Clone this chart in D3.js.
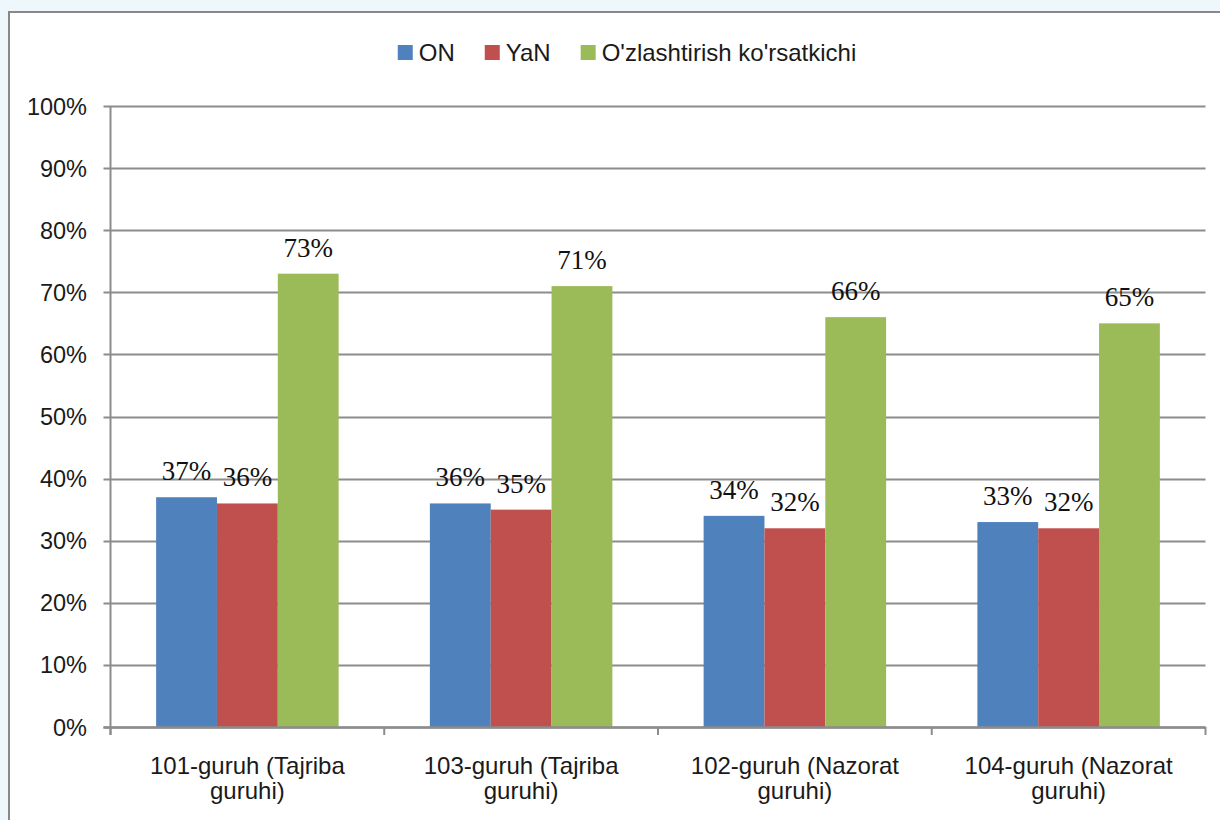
<!DOCTYPE html>
<html>
<head>
<meta charset="utf-8">
<script src="https://cdn.jsdelivr.net/npm/d3@7"></script>
<style>
  html, body { margin: 0; padding: 0; background: #eef7fc; overflow: hidden; }
  svg { display: block; }
</style>
</head>
<body>
<div id="container"></div>
<script>
// data
const groups = [
    ["101-guruh (Tajriba", "guruhi)"],
    ["103-guruh (Tajriba", "guruhi)"],
    ["102-guruh (Nazorat", "guruhi)"],
    ["104-guruh (Nazorat", "guruhi)"]
];
const seriesNames = ["ON", "YaN", "O'zlashtirish ko'rsatkichi"];
const seriesColors = ["#4f81bd", "#c0504d", "#9bbb59"];
const onValues = [0.37, 0.36, 0.34, 0.33];
const yanValues = [0.36, 0.35, 0.32, 0.32];
const masteryValues = [0.73, 0.71, 0.66, 0.65];
const yTicks = [0, 0.1, 0.2, 0.3, 0.4, 0.5, 0.6, 0.7, 0.8, 0.9, 1];

const series = [onValues, yanValues, masteryValues];

const width = 1220, height = 820;
const sans = "'Liberation Sans', Arial, sans-serif";
const serif = "'Liberation Serif', 'Times New Roman', serif";

const svg = d3.select("#container").append("svg")
    .attr("width", width)
    .attr("height", height);

// chart box
svg.append("rect")
    .attr("x", 9).attr("y", 12)
    .attr("width", 1300).attr("height", 900)
    .attr("fill", "#fff")
    .attr("stroke", "#888")
    .attr("stroke-width", 2);

const plot = {left: 110.5, right: 1205.5, top: 106, bottom: 727};

const x = d3.scaleBand()
    .domain(d3.range(groups.length))
    .range([plot.left, plot.right])
    .paddingInner(0)
    .paddingOuter(0);

const inner = d3.scaleBand()
    .domain(d3.range(series.length))
    .range([0, x.bandwidth()])
    .paddingOuter(0.75)
    .paddingInner(0);

const y = d3.scaleLinear().domain([0, 1]).range([plot.bottom, plot.top]);

// grid
svg.append("g")
    .selectAll("line")
    .data(yTicks)
    .join("line")
    .attr("x1", plot.left - 7)
    .attr("x2", plot.right)
    .attr("y1", d => Math.round(y(d)) + 0.5)
    .attr("y2", d => Math.round(y(d)) + 0.5)
    .attr("stroke", "#8c8c8c")
    .attr("stroke-width", 2);

// y tick labels
svg.append("g")
    .selectAll("text")
    .data(yTicks)
    .join("text")
    .attr("x", 87)
    .attr("y", d => y(d) + 8.5)
    .attr("text-anchor", "end")
    .attr("font-family", sans)
    .attr("font-size", 23.5)
    .attr("fill", "#1a1a1a")
    .text(d3.format(".0%"));

// bars
const barGroups = svg.append("g")
    .selectAll("g")
    .data(series)
    .join("g")
    .attr("fill", (d, i) => seriesColors[i]);

barGroups.selectAll("rect")
    .data((vals, si) => vals.map((v, gi) => ({v, gi, si})))
    .join("rect")
    .attr("x", d => x(d.gi) + inner(d.si))
    .attr("y", d => y(d.v))
    .attr("width", inner.bandwidth())
    .attr("height", d => y(0) - y(d.v));

// data labels
svg.append("g")
    .selectAll("text")
    .data(series.flatMap((vals, si) => vals.map((v, gi) => ({v, gi, si}))))
    .join("text")
    .attr("x", d => x(d.gi) + inner(d.si) + inner.bandwidth() / 2)
    .attr("y", d => y(d.v) - 17)
    .attr("text-anchor", "middle")
    .attr("font-family", serif)
    .attr("font-size", 27)
    .attr("fill", "#111")
    .text(d => d3.format(".0%")(d.v));

// axes lines
svg.append("line")
    .attr("x1", plot.left).attr("x2", plot.left)
    .attr("y1", plot.top).attr("y2", plot.bottom + 8)
    .attr("stroke", "#8c8c8c").attr("stroke-width", 2);

svg.append("line")
    .attr("x1", plot.left - 7).attr("x2", plot.right)
    .attr("y1", plot.bottom + 0.5).attr("y2", plot.bottom + 0.5)
    .attr("stroke", "#8c8c8c").attr("stroke-width", 2.5);

svg.append("g")
    .selectAll("line")
    .data(d3.range(groups.length + 1))
    .join("line")
    .attr("x1", i => plot.left + i * x.bandwidth())
    .attr("x2", i => plot.left + i * x.bandwidth())
    .attr("y1", plot.bottom)
    .attr("y2", plot.bottom + 8)
    .attr("stroke", "#8c8c8c").attr("stroke-width", 2);

// category labels
const cat = svg.append("g")
    .selectAll("text")
    .data(groups)
    .join("text")
    .attr("x", (d, i) => x(i) + x.bandwidth() / 2)
    .attr("y", 774)
    .attr("text-anchor", "middle")
    .attr("font-family", sans)
    .attr("font-size", 24)
    .attr("fill", "#1a1a1a");

cat.selectAll("tspan")
    .data(d => d)
    .join("tspan")
    .attr("x", function () { return this.parentNode.getAttribute("x"); })
    .attr("dy", (d, i) => i === 0 ? 0 : 24.5)
    .text(d => d);

// legend
const legend = svg.append("g");
const items = legend.selectAll("g")
    .data(seriesNames)
    .join("g");

items.append("rect")
    .attr("width", 15).attr("height", 15)
    .attr("y", 45)
    .attr("fill", (d, i) => seriesColors[i]);

items.append("text")
    .attr("x", 21)
    .attr("y", 61)
    .attr("font-family", sans)
    .attr("font-size", 24)
    .attr("fill", "#1a1a1a")
    .text(d => d);

let cursor = 0;
items.each(function () {
    const w = d3.select(this).select("text").node().getComputedTextLength();
    d3.select(this).attr("transform", `translate(${cursor},0)`);
    cursor += 21 + w + 30;
});
const legendWidth = cursor - 30;
legend.attr("transform", `translate(${627 - legendWidth / 2},0)`);
</script>
</body>
</html>
